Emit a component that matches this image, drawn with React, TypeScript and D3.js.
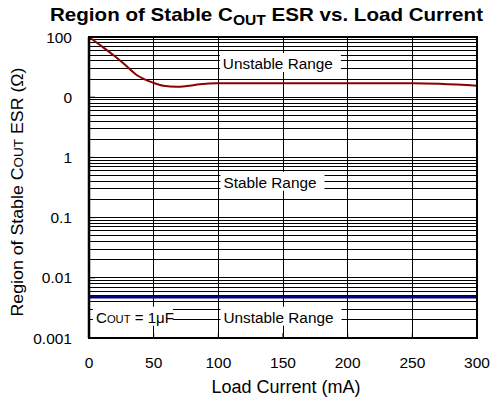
import React from 'react';
import * as d3 from 'd3';

const xTicks = [0, 50, 100, 150, 200, 250, 300];
const yTickValues = [100, 10, 1, 0.1, 0.01, 0.001];
const yTickLabels = ['100', '0', '1', '0.1', '0.01', '0.001'];

// upper stability limit (mA, ohm)
const loadCurrent = [0, 8.5, 18.8, 26.5, 36.8, 49.6, 57.4, 67.7, 75.4, 85.8, 98.7, 150, 200, 250, 300];
const esrUpper = [100, 73.6, 50.2, 36.6, 23.4, 17.4, 15.5, 14.9, 15.3, 16.4, 17.0, 17.0, 17.0, 17.0, 15.5];
// lower stability limit
const lowerCurrent = [0, 300];
const esrLower = [0.0048, 0.0048];

const W = 490, H = 397;
const m = { left: 89, right: 13, top: 37, bottom: 59 };
const font = 'Liberation Sans, Arial, sans-serif';

export default function App() {
  const x = d3.scaleLinear().domain([0, 300]).range([m.left, W - m.right]);
  const y = d3.scaleLog().domain([0.001, 100]).range([H - m.bottom, m.top]);

  const minor: number[] = [];
  [0.001, 0.01, 0.1, 1, 10].forEach(d => {
    for (let k = 2; k <= 9; k++) minor.push(d * k);
  });

  const line = d3.line<number>()
    .x((d, i) => x(loadCurrent[i]))
    .y(d => y(d))
    .curve(d3.curveMonotoneX);
  const lowLine = d3.line<number>()
    .x((d, i) => x(lowerCurrent[i]))
    .y(d => y(d));

  const labels = [
    { t: 'Unstable Range', x: 103.5, v: 37, w: 110 },
    { t: 'Stable Range', x: 104, v: 0.394, w: 93 },
    { t: 'Unstable Range', x: 104, v: 0.00226, w: 110 },
  ];

  return (
    <svg width={W} height={H} style={{ position: 'absolute', left: 0, top: 0 }} fontFamily={font}>
      <rect width={W} height={H} fill="#fff" />
      <text x={50} y={21} fontWeight="bold" fontSize={18.5} textLength={433} lengthAdjust="spacingAndGlyphs">
        Region of Stable C<tspan fontSize={14} dy={4}>OUT</tspan><tspan dy={-4}> ESR vs. Load Current</tspan>
      </text>
      <g stroke="#000" strokeWidth={1} shapeRendering="crispEdges">
        {minor.map((v, i) => (
          <line key={'mn' + i} x1={m.left} x2={W - m.right} y1={y(v)} y2={y(v)} />
        ))}
        {yTickValues.map((v, i) => (
          <line key={'mj' + i} x1={m.left} x2={W - m.right} y1={y(v)} y2={y(v)} />
        ))}
        {xTicks.slice(1, -1).map((v, i) => (
          <line key={'vx' + i} x1={x(v)} x2={x(v)} y1={m.top} y2={H - m.bottom} />
        ))}
      </g>
      {labels.map((l, i) => (
        <g key={'lb' + i}>
          <rect x={x(l.x) - 3} y={y(l.v) - 10} width={l.w + 11} height={19} fill="#fff" />
          <text x={x(l.x)} y={y(l.v) + 6} fontSize={15.5} textLength={l.w} lengthAdjust="spacingAndGlyphs">{l.t}</text>
        </g>
      ))}
      <rect x={x(3)} y={y(0.00226) - 10} width={80} height={19} fill="#fff" />
      <text x={x(5.4)} y={y(0.00226) + 6} fontSize={15.5} textLength={78} lengthAdjust="spacingAndGlyphs">
        C<tspan fontSize={11.5}>OUT</tspan> = 1μF
      </text>
      <path d={lowLine(esrLower) || ''} fill="none" stroke="#000080" strokeWidth={3} />
      <path d={line(esrUpper) || ''} fill="none" stroke="#8b0000" strokeWidth={2} />
      <rect x={m.left} y={m.top} width={W - m.left - m.right} height={H - m.top - m.bottom}
        fill="none" stroke="#000" strokeWidth={1.5} shapeRendering="crispEdges" />
      <line x1={m.left} x2={m.left} y1={m.top} y2={H - m.bottom} stroke="#000" strokeWidth={2.5} />
      <g fontSize={15.5} fill="#000">
        {yTickValues.map((v, i) => (
          <text key={'yt' + i} x={72} y={y(v) + 5.5} textAnchor="end">{yTickLabels[i]}</text>
        ))}
        {xTicks.map((v, i) => (
          <text key={'xt' + i} x={x(v)} y={368} textAnchor="middle">{v}</text>
        ))}
      </g>
      <g stroke="#000" strokeWidth={1}>
        {yTickValues.map((v, i) => (
          <line key={'yk' + i} x1={m.left} x2={m.left + 6} y1={y(v)} y2={y(v)} />
        ))}
        {xTicks.map((v, i) => (
          <line key={'xk' + i} x1={x(v)} x2={x(v)} y1={H - m.bottom} y2={H - m.bottom - 5} />
        ))}
      </g>
      <text x={286} y={393} textAnchor="middle" fontSize={18}>Load Current (mA)</text>
      <text transform="translate(23,192) rotate(-90)" textAnchor="middle" fontSize={16.5} textLength={249} lengthAdjust="spacingAndGlyphs">
        Region of Stable C<tspan fontSize={12.5}>OUT</tspan> ESR (Ω)
      </text>
    </svg>
  );
}
